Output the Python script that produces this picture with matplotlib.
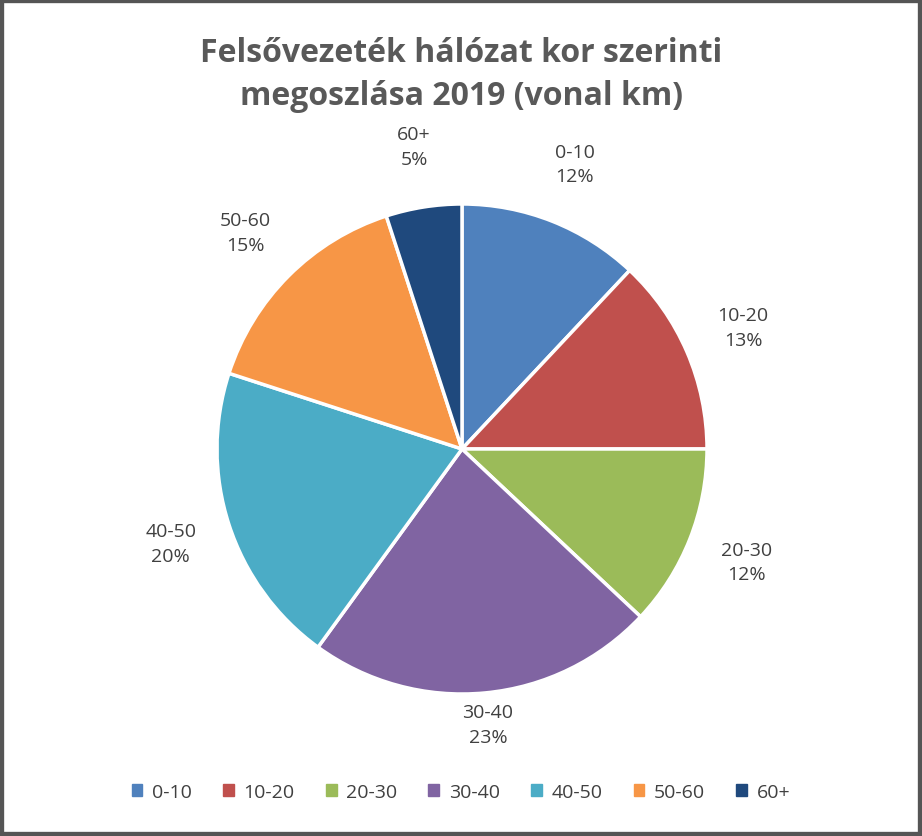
import matplotlib
matplotlib.use("Agg")
import matplotlib.pyplot as plt
import numpy as np
from matplotlib.patches import Rectangle

categories = ["0-10", "10-20", "20-30", "30-40", "40-50", "50-60", "60+"]
values = [12, 13, 12, 23, 20, 15, 5]
colors = ["#4F81BD", "#C0504D", "#9BBB59", "#8064A2", "#4BACC6", "#F79646", "#1F497D"]
title = "Felsővezeték hálózat kor szerinti\nmegoszlása 2019 (vonal km)"

plt.rcParams["font.family"] = "Open Sans"
W, H = 922, 837
fig = plt.figure(figsize=(W/100, H/100), dpi=100)
fig.patches.append(Rectangle((0, 0), 1, 1, transform=fig.transFigure, fill=False,
                             edgecolor="#555555", linewidth=6))
cx, cy, r = 462, 450, 245
ax = fig.add_axes([(cx-r)/W, (H-cy-r)/H, 2*r/W, 2*r/H])
wedges, _ = ax.pie(values, colors=colors, startangle=90, counterclock=False,
                   wedgeprops=dict(edgecolor="white", linewidth=2.5), radius=1)
ax.set_xlim(-1, 1); ax.set_ylim(-1, 1); ax.set_aspect("equal")
total = sum(values)
for w, c, v in zip(wedges, categories, values):
    th = np.deg2rad((w.theta1 + w.theta2) / 2)
    d = 1.13 if c == "30-40" else 1.25
    ax.text(d*np.cos(th), d*np.sin(th), f"{c}\n{v/total*100:.0f}%", ha="center", va="center",
            fontsize=14, color="#404040", linespacing=1.45)
fig.text(0.5, 1-75/H, title, ha="center", va="center", fontsize=23, fontweight="bold",
         color="#595959", linespacing=1.4)
handles = [plt.Rectangle((0, 0), 1, 1, color=c) for c in colors]
fig.legend(handles, categories, loc="center", bbox_to_anchor=(0.5, 1-793/H), ncol=7,
           frameon=False, fontsize=14, handlelength=0.55, handleheight=0.55,
           columnspacing=1.6, handletextpad=0.5, labelcolor="#404040")
fig.savefig("out.png", dpi=100)
